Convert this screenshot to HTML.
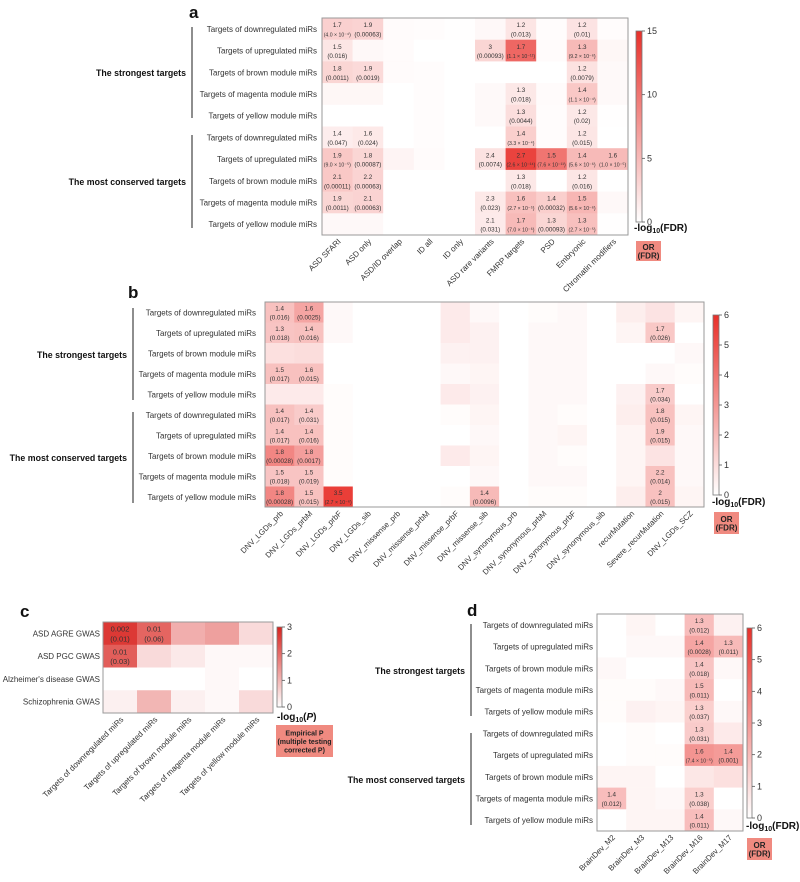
<!DOCTYPE html>
<html><head><meta charset="utf-8"><style>
html,body{margin:0;padding:0;background:#fff;}
svg{display:block;font-family:"Liberation Sans",Arial,sans-serif;}
</style></head><body>
<svg id="fig" width="800" height="882" viewBox="0 0 800 882" xmlns="http://www.w3.org/2000/svg"></svg>
<script>
// ---------- Panel a data ----------
const rowsMiR = ["Targets of downregulated miRs","Targets of upregulated miRs","Targets of brown module miRs","Targets of magenta module miRs","Targets of yellow module miRs","Targets of downregulated miRs","Targets of upregulated miRs","Targets of brown module miRs","Targets of magenta module miRs","Targets of yellow module miRs"];
const colsA = ["ASD SFARI","ASD only","ASD/ID overlap","ID all","ID only","ASD rare variants","FMRP targets","PSD","Embryonic","Chromatin modifiers"];
const valsA = [
[3.4,3.2,0.3,0.2,0.1,0.5,1.9,0.2,2.0,0.2],
[1.8,0.5,0.3,0,0,3.0,11,0.3,5.0,0.6],
[3.0,2.7,0.3,0.2,0,0,0,0,2.1,0.4],
[0.6,0.6,0,0.2,0,0.4,1.7,0.3,4.0,0.4],
[0,0,0,0.2,0,0.4,2.4,0.2,1.7,0.1],
[1.3,1.6,0,0.2,0,0,3.5,0.2,1.8,0],
[4.0,3.0,0.8,0.3,0,2.1,13.6,10,5.0,5.0],
[4.0,3.2,0,0,0,0,1.7,0,1.8,0],
[3.0,3.2,0,0,0,1.6,4.6,3.5,5.3,0.5],
[0.5,0.5,0,0,0,1.5,5.0,3.0,4.6,0.1]];
const orA = [
["1.7","1.9","","","","","1.2","","1.2",""],
["1.5","","","","","3","1.7","","1.3",""],
["1.8","1.9","","","","","","","1.2",""],
["","","","","","","1.3","","1.4",""],
["","","","","","","1.3","","1.2",""],
["1.4","1.6","","","","","1.4","","1.2",""],
["1.9","1.8","","","","2.4","2.7","1.5","1.4","1.6"],
["2.1","2.2","","","","","1.3","","1.2",""],
["1.9","2.1","","","","2.3","1.6","1.4","1.5",""],
["","","","","","2.1","1.7","1.3","1.3",""]];
const fdrA = [
["(4.0 × 10⁻⁴)","(0.00063)","","","","","(0.013)","","(0.01)",""],
["(0.016)","","","","","(0.00093)","(1.1 × 10⁻¹¹)","","(9.2 × 10⁻⁶)",""],
["(0.0011)","(0.0019)","","","","","","","(0.0079)",""],
["","","","","","","(0.018)","","(1.1 × 10⁻⁴)",""],
["","","","","","","(0.0044)","","(0.02)",""],
["(0.047)","(0.024)","","","","","(3.3 × 10⁻⁴)","","(0.015)",""],
["(9.0 × 10⁻⁵)","(0.00087)","","","","(0.0074)","(2.6 × 10⁻¹⁴)","(7.6 × 10⁻¹¹)","(5.6 × 10⁻⁶)","(1.0 × 10⁻⁵)"],
["(0.00011)","(0.00063)","","","","","(0.018)","","(0.016)",""],
["(0.0011)","(0.00063)","","","","(0.023)","(2.7 × 10⁻⁵)","(0.00032)","(5.6 × 10⁻⁶)",""],
["","","","","","(0.031)","(7.0 × 10⁻⁶)","(0.00093)","(2.7 × 10⁻⁵)",""]];
const ticksA = [0,5,10,15];
// ---------- Panel b data ----------
const colsB = ["DNV_LGDs_prb","DNV_LGDs_prbM","DNV_LGDs_prbF","DNV_LGDs_sib","DNV_missense_prb","DNV_missense_prbM","DNV_missense_prbF","DNV_missense_sib","DNV_synonymous_prb","DNV_synonymous_prbM","DNV_synonymous_prbF","DNV_synonymous_sib","recurMutation","Severe_recurMutation","DNV_LGDs_SCZ"];
const valsB = [
[1.8,2.6,0.2,0,0,0,0.6,0.2,0,0.1,0.2,0,0.5,0.8,0.3],
[1.7,1.8,0.2,0,0,0,0.6,0.4,0,0.2,0.2,0,0.3,1.6,0],
[0.9,1.0,0,0,0,0,0.4,0.4,0,0.2,0.2,0,0,0,0.2],
[1.8,1.8,0,0,0,0,0.2,0.3,0,0.2,0.2,0,0,0.2,0.1],
[0.6,0.6,0.1,0,0,0,0.6,0.4,0,0.2,0.2,0,0.4,1.5,0],
[1.8,1.5,0.1,0,0,0,0.1,0.3,0,0.2,0.1,0,0.5,1.8,0.3],
[1.8,1.8,0.1,0,0,0,0,0.2,0,0.2,0.3,0,0.3,1.8,0.2],
[3.5,2.8,0.1,0,0,0,0.6,0.3,0,0.2,0.1,0,0.3,0.8,0.2],
[1.7,1.7,0.1,0,0,0,0,0.2,0,0.2,0.2,0,0.3,1.8,0.2],
[3.5,1.8,5.6,0,0,0,0.1,2.0,0,0.1,0.1,0,0.5,1.8,0.3]];
const orB = [
["1.4","1.6","","","","","","","","","","","","",""],
["1.3","1.4","","","","","","","","","","","","1.7",""],
["","","","","","","","","","","","","","",""],
["1.5","1.6","","","","","","","","","","","","",""],
["","","","","","","","","","","","","","1.7",""],
["1.4","1.4","","","","","","","","","","","","1.8",""],
["1.4","1.4","","","","","","","","","","","","1.9",""],
["1.8","1.8","","","","","","","","","","","","",""],
["1.5","1.5","","","","","","","","","","","","2.2",""],
["1.8","1.5","3.5","","","","","1.4","","","","","","2",""]];
const fdrB = [
["(0.016)","(0.0025)","","","","","","","","","","","","",""],
["(0.018)","(0.016)","","","","","","","","","","","","(0.026)",""],
["","","","","","","","","","","","","","",""],
["(0.017)","(0.015)","","","","","","","","","","","","",""],
["","","","","","","","","","","","","","(0.034)",""],
["(0.017)","(0.031)","","","","","","","","","","","","(0.015)",""],
["(0.017)","(0.016)","","","","","","","","","","","","(0.015)",""],
["(0.00028)","(0.0017)","","","","","","","","","","","","",""],
["(0.018)","(0.019)","","","","","","","","","","","","(0.014)",""],
["(0.00028)","(0.015)","(2.7 × 10⁻⁶)","","","","","(0.0096)","","","","","","(0.015)",""]];
const ticksB = [0,1,2,3,4,5,6];
// ---------- Panel c data ----------
const rowsC = ["ASD AGRE GWAS","ASD PGC GWAS","Alzheimer's disease GWAS","Schizophrenia GWAS"];
const colsC = ["Targets of downregulated miRs","Targets of upregulated miRs","Targets of brown module miRs","Targets of magenta module miRs","Targets of yellow module miRs"];
const valsC = [[2.7,2.1,1.1,1.3,0.5],[2.2,0.5,0.3,0.1,0.1],[0,0,0,0.1,0],[0.2,1.0,0.2,0.1,0.5]];
const orC = [["0.002","0.01","","",""],["0.01","","","",""],["","","","",""],["","","","",""]];
const fdrC = [["(0.01)","(0.06)","","",""],["(0.03)","","","",""],["","","","",""],["","","","",""]];
const ticksC = [0,1,2,3];
// ---------- Panel d data ----------
const colsD = ["BrainDev_M2","BrainDev_M3","BrainDev_M13","BrainDev_M16","BrainDev_M17"];
const valsD = [
[0,0.3,0,1.9,0.4],[0,0.2,0.2,2.6,2.0],[0.2,0,0,1.7,0.2],[0.1,0.1,0.2,2.0,0],[0.1,0.4,0.3,1.4,0.2],
[0,0.1,0,1.5,0.6],[0,0.1,0.1,3.1,2.9],[0.3,0.3,0,0.7,0.9],[1.9,0.3,0.2,1.4,0],[0,0.3,0.3,1.9,0.2]];
const orD = [
["","","","1.3",""],["","","","1.4","1.3"],["","","","1.4",""],["","","","1.5",""],["","","","1.3",""],
["","","","1.3",""],["","","","1.6","1.4"],["","","","",""],["1.4","","","1.3",""],["","","","1.4",""]];
const fdrD = [
["","","","(0.012)",""],["","","","(0.0028)","(0.011)"],["","","","(0.018)",""],["","","","(0.011)",""],["","","","(0.037)",""],
["","","","(0.031)",""],["","","","(7.4 × 10⁻⁵)","(0.001)"],["","","","",""],["(0.012)","","","(0.038)",""],["","","","(0.011)",""]];
const ticksD = [0,1,2,3,4,5,6];

const NS="http://www.w3.org/2000/svg";
const svg=document.getElementById('fig');
function mk(tag,attrs,parent,text){const e=document.createElementNS(NS,tag);for(const k in attrs)e.setAttribute(k,attrs[k]);if(text!==undefined)e.textContent=text;(parent||svg).appendChild(e);return e;}
function colorFor(v,max,top){const t=Math.max(0,Math.min(1,v/max));const r=Math.round(255+(top[0]-255)*t),g=Math.round(255+(top[1]-255)*t),b=Math.round(255+(top[2]-255)*t);return `rgb(${r},${g},${b})`;}
let gid=0;
function heatmap(p){
  const g=mk('g',{});
  
  
  const nr=p.rows.length,nc=p.cols.length;
  const cw=(p.x1-p.x0)/nc,rh=(p.y1-p.y0)/nr;
  const xs=j=>p.x0+j*cw, ys=i=>p.y0+i*rh;
  for(let i=0;i<nr;i++)for(let j=0;j<nc;j++){
    const r=mk('rect',{x:xs(j),y:ys(i),width:cw+0.3,height:rh+0.3,fill:colorFor(p.vals[i][j],p.max,p.top)},g);
    
    
    if(p.or[i][j]){
      const cx=xs(j)+cw/2;
      const two=p.fdr[i][j]!=="";
      const t1=mk('text',{x:cx,y:ys(i)+(two?rh*0.42:rh*0.6),'text-anchor':'middle','font-size':p.cf,fill:'#333'},g,p.or[i][j]);
      
      
      if(two){const f=p.fdr[i][j];const small=f.length>9;
        const t2=mk('text',{x:cx,y:ys(i)+rh*0.85,'text-anchor':'middle','font-size':small?p.cf*0.82:p.cf,fill:'#333'},g,f);
        
        }
    }
  }
  const bd=mk('rect',{x:p.x0,y:p.y0,width:p.x1-p.x0,height:p.y1-p.y0,fill:'none',stroke:'#999','stroke-width':1},g);
  
  
  for(let i=0;i<nr;i++){
    const t=mk('text',{x:p.lx,y:ys(i)+rh/2+3,'text-anchor':'end','font-size':p.rf,fill:'#333'},g,p.rows[i]);
    
    
  }
  for(let j=0;j<nc;j++){
    const ax=xs(j)+cw/2+4, ay=p.y1+7;
    const t=mk('text',{x:ax,y:ay,'text-anchor':'end','font-size':p.xf,fill:'#333',transform:`rotate(-45 ${ax} ${ay})`},g,p.cols[j]);
    
    
  }
  gid++;const id='grad'+gid;
  const defs=mk('defs',{},g);const lg=mk('linearGradient',{id:id,x1:0,y1:1,x2:0,y2:0},defs);
  mk('stop',{offset:0,'stop-color':'#fff'},lg);mk('stop',{offset:1,'stop-color':`rgb(${p.top.join(',')})`},lg);
  const c=p.cb;
  const cb=mk('rect',{x:c.x,y:c.y0,width:c.w,height:c.y1-c.y0,fill:`url(#${id})`,stroke:'#777','stroke-width':0.8},g);
  
  
  const cy=v=>c.y1-(v/p.max)*(c.y1-c.y0);
  p.ticks.forEach(v=>{
    mk('line',{x1:c.x+c.w,x2:c.x+c.w+3,y1:cy(v),y2:cy(v),stroke:'#555','stroke-width':0.8},g);
    const t=mk('text',{x:c.x+c.w+5,y:cy(v)+3,'font-size':p.tf,fill:'#333'},g,String(v));
    
    
  });
  return g;
}
function cbTitle(x,y,main,ital,name){
  const t=mk('text',{x:x,y:y,'font-size':10,'font-weight':'bold',fill:'#111'});
  
  
  mk('tspan',{},t,'-log');mk('tspan',{'font-size':7,dy:2},t,'10');
  mk('tspan',{dy:-2},t,'(');mk('tspan',{'font-style':ital?'italic':'normal'},t,main);mk('tspan',{},t,')');
}
function orBox(x,y,w,h,lines,name){
  const r=mk('rect',{x:x,y:y,width:w,height:h,fill:'#f08a80'});
  
  
  lines.forEach((l,i)=>{const t=mk('text',{x:x+w/2,y:y+h/2+(i-(lines.length-1)/2)*8.5+3,'text-anchor':'middle','font-size':lines.length>2?7:8,'font-weight':'bold',fill:'#222'},null,l);
    
    });
}
function bracket(x,ya,yb,yc,yd,lx,l1y,l2y,name){
  mk('line',{x1:x,x2:x,y1:ya,y2:yb,stroke:'#444','stroke-width':1.2});
  mk('line',{x1:x,x2:x,y1:yc,y2:yd,stroke:'#444','stroke-width':1.2});
  const a=mk('text',{x:lx,y:l1y,'text-anchor':'end','font-size':8.8,'font-weight':'bold',fill:'#111'},null,'The strongest  targets');
  
  
  const b=mk('text',{x:lx,y:l2y,'text-anchor':'end','font-size':8.8,'font-weight':'bold',fill:'#111'},null,'The most conserved targets');
  
  
}
function panelLetter(x,y,s){const t=mk('text',{x:x,y:y,'font-size':17,'font-weight':'bold',fill:'#111'},null,s);
  
  }
const RED=[232,48,42];
panelLetter(189,18,'a');
heatmap({name:'heatmap-a',rows:rowsMiR,cols:colsA,vals:valsA,or:orA,fdr:fdrA,max:15,top:RED,x0:322,x1:628,y0:18,y1:235,lx:317,rf:8,cf:6.3,xf:8,tf:9,ticks:ticksA,cb:{x:636,w:6,y0:31,y1:222}});
bracket(192,27,118,135,228,186,76,185,'a');
cbTitle(634,231,'FDR',false,'colorbar-a-title');
orBox(636,241,25,20,['OR','(FDR)'],'legend-or-fdr-a');
panelLetter(128,298,'b');
heatmap({name:'heatmap-b',rows:rowsMiR,cols:colsB,vals:valsB,or:orB,fdr:fdrB,max:6,top:RED,x0:265,x1:704,y0:302,y1:507,lx:256,rf:8,cf:6.3,xf:7.8,tf:9,ticks:ticksB,cb:{x:713,w:6,y0:315,y1:495}});
bracket(133,308,400,412,503,127,358,461,'b');
cbTitle(712,505,'FDR',false,'colorbar-b-title');
orBox(714,512,25,22,['OR','(FDR)'],'legend-or-fdr-b');
panelLetter(20,617,'c');
heatmap({name:'heatmap-c',rows:rowsC,cols:colsC,vals:valsC,or:orC,fdr:fdrC,max:3,top:[216,35,30],x0:103,x1:273,y0:622,y1:713,lx:100,rf:8,cf:7.5,xf:8,tf:9,ticks:ticksC,cb:{x:277,w:5,y0:627,y1:707}});
cbTitle(277,720,'P',true,'colorbar-c-title');
orBox(276,725,57,32,['Empirical P','(multiple testing','corrected P)'],'legend-empirical-p');
panelLetter(467,616,'d');
heatmap({name:'heatmap-d',rows:rowsMiR,cols:colsD,vals:valsD,or:orD,fdr:fdrD,max:6,top:RED,x0:597,x1:743,y0:614,y1:831,lx:593,rf:8,cf:6.3,xf:7.8,tf:9,ticks:ticksD,cb:{x:747,w:5,y0:628,y1:818}});
bracket(471,624,716,733,825,465,674,783,'d');
cbTitle(746,829,'FDR',false,'colorbar-d-title');
orBox(747,838,25,22,['OR','(FDR)'],'legend-or-fdr-d');
</script>
</body></html>
